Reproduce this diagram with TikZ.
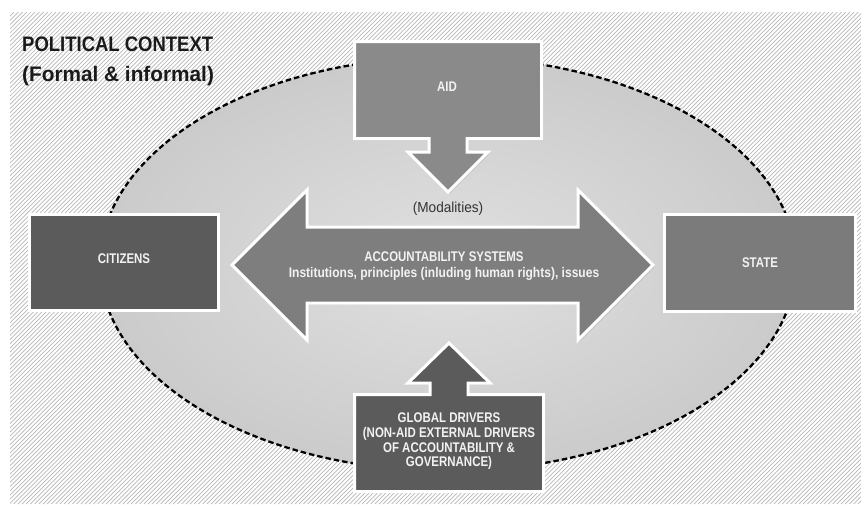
\documentclass[tikz,border=0pt]{standalone}
\usepackage{fontspec}
\setmainfont{Liberation Sans}
\newfontfamily\lblfont{Liberation Sans}[FakeStretch=0.82]
\newfontfamily\lblwfont{Liberation Sans}[FakeStretch=0.86]
\newfontfamily\ttlfont{Liberation Sans}[FakeStretch=0.88]
\newfontfamily\ttlwfont{Liberation Sans}[FakeStretch=0.99]
\newfontfamily\modfont{Liberation Sans}[FakeStretch=0.94]
\usetikzlibrary{shadows}
\definecolor{hatchgray}{HTML}{B8B8B8}
\definecolor{darkbox}{HTML}{5B5B5B}
\definecolor{midbox}{HTML}{7B7B7B}
\definecolor{aidbox}{HTML}{8A8A8A}
\definecolor{arrowbox}{HTML}{7E7E7E}
\definecolor{ellin}{HTML}{E0E0E0}
\definecolor{ellout}{HTML}{CBCBCB}
\definecolor{lbltext}{HTML}{F2F2F2}
\definecolor{titletext}{HTML}{1A1A1A}
\begin{document}
\begin{tikzpicture}[x=1pt,y=-1pt,
  shapebox/.style={draw=white, line width=3pt, line join=miter,
    drop shadow={opacity=0.3, shadow xshift=1.5pt, shadow yshift=-1.5pt}},
  lbl/.style={text=lbltext, font=\lblfont\bfseries\fontsize{14}{14.6}\selectfont, align=center, inner sep=0pt},
  hatchline/.style={draw=hatchgray, line width=0.7pt}
]
\useasboundingbox (0,0) rectangle (861,504);
\fill[white] (0,0) rectangle (861,504);
% hatched background
\begin{scope}
  \clip (10,12) rectangle (861,504);
  \foreach \i in {0,...,330} {
    \draw[hatchline] ({10+\i*4.2-492},504) -- ++(492,-492);
  }
\end{scope}
% ellipse
\shade[inner color=ellin, outer color=ellout] (448,264) ellipse [x radius=348, y radius=207];
\draw[black, line width=2.3pt, dash pattern=on 5.5pt off 3pt] (448,264) ellipse [x radius=348, y radius=207];

% title
\node[anchor=north west, inner sep=0pt, align=left, text=titletext,
  font=\ttlfont\bfseries\fontsize{21}{30}\selectfont] (title) at (22,37)
  {POLITICAL CONTEXT\\{\ttlwfont\bfseries (Formal \& informal)}};

% CITIZENS
\draw[shapebox, fill=darkbox] (29.5,214.5) rectangle (218.5,310.5);
\node[lbl] (citizens) at (124,259) {CITIZENS};

% STATE
\draw[shapebox, fill=midbox] (664.5,214.5) rectangle (855.5,311.5);
\node[lbl] (state) at (760,262.5) {STATE};

% AID box with down arrow
\draw[shapebox, fill=aidbox] (354.5,41.5) -- (541.5,41.5) -- (541.5,138.5) -- (467,138.5)
  -- (467,152) -- (488,152) -- (448,192) -- (408,152) -- (429,152) -- (429,138.5)
  -- (354.5,138.5) -- cycle;
\node[lbl] (aid) at (447,87) {AID};
\node[inner sep=0pt, text=black!80, font=\modfont\fontsize{14.5}{16}\selectfont] (modal) at (448,208.5) {(Modalities)};

% Accountability double arrow
\draw[shapebox, fill=arrowbox] (232,265) -- (307,190) -- (307,227) -- (578,227) -- (578,190)
  -- (653,265) -- (578,340) -- (578,303) -- (307,303) -- (307,340) -- cycle;
\node[lbl, anchor=north, font=\lblfont\bfseries\fontsize{14}{15.5}\selectfont] (acc) at (444,252)
  {ACCOUNTABILITY SYSTEMS\\{\lblwfont\bfseries Institutions, principles (inluding human rights), issues}};

% Global drivers box with up arrow
\draw[shapebox, fill=darkbox] (354.5,394.5) -- (430,394.5) -- (430,383) -- (408,383) -- (449,343)
  -- (490,383) -- (468,383) -- (468,394.5) -- (543.5,394.5) -- (543.5,491.5) -- (354.5,491.5) -- cycle;
\node[lbl, anchor=north] (gd) at (449,413)
  {GLOBAL DRIVERS\\(NON-AID EXTERNAL DRIVERS\\OF ACCOUNTABILITY \&\\GOVERNANCE)};
\end{tikzpicture}
\end{document}
